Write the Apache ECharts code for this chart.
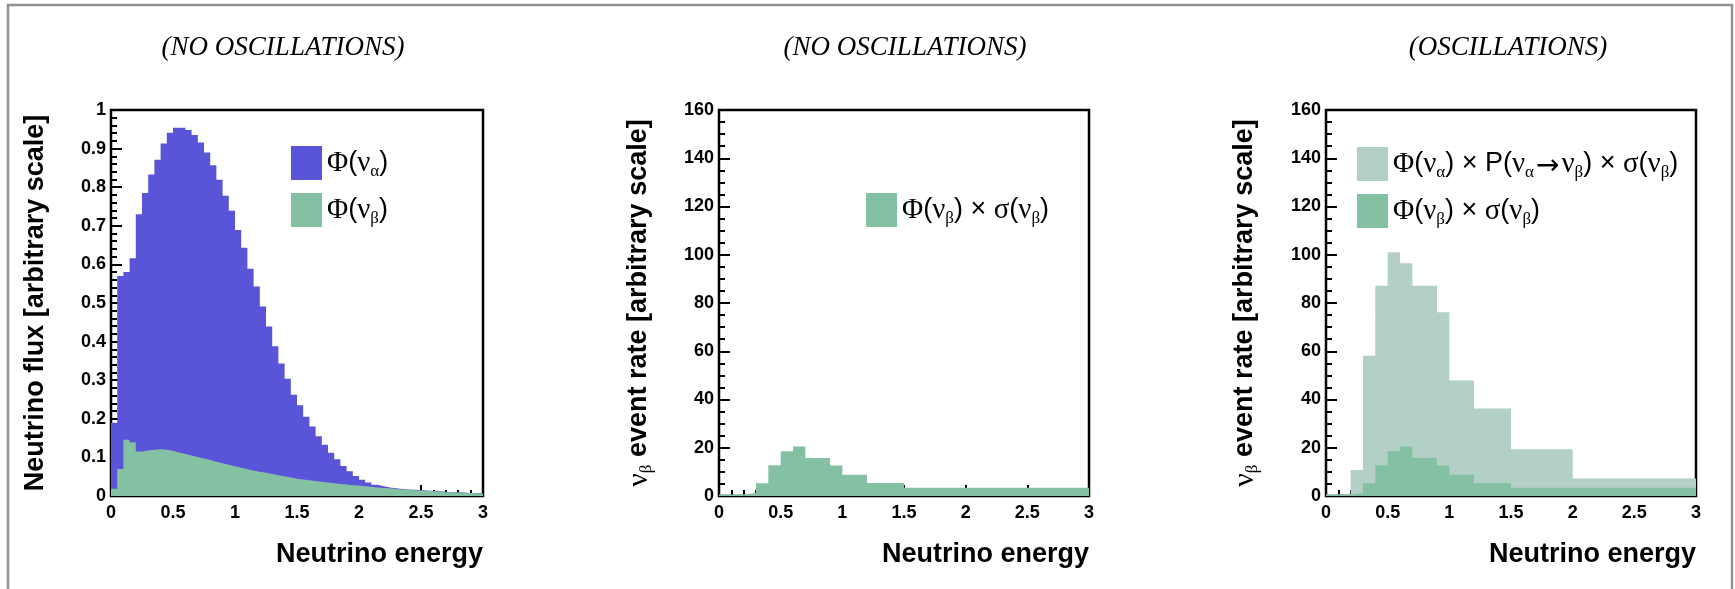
<!DOCTYPE html>
<html>
<head>
<meta charset="utf-8">
<script src="https://cdn.jsdelivr.net/npm/echarts@6/dist/echarts.min.js"></script>
<style>
  html, body { margin: 0; padding: 0; background: #ffffff; }
  #chart { width: 1735px; height: 589px; }
</style>
</head>
<body>
<div id="chart"></div>
<script>
// ---------------- data ----------------
// Panel 1: neutrino flux histograms, 60 bins of width 0.05 from 0 to 3
const fluxBinWidth = 0.05;
const fluxNuAlpha = [
  0.19, 0.57, 0.58, 0.616, 0.73, 0.785, 0.833, 0.871, 0.913, 0.941,
  0.954, 0.954, 0.948, 0.935, 0.916, 0.89, 0.857, 0.819, 0.778, 0.739,
  0.689, 0.643, 0.589, 0.543, 0.491, 0.439, 0.388, 0.343, 0.304, 0.262,
  0.235, 0.205, 0.18, 0.155, 0.133, 0.112, 0.095, 0.078, 0.064, 0.052,
  0.042, 0.035, 0.029, 0.025, 0.022, 0.02, 0.018, 0.017, 0.016, 0.015,
  0.014, 0.013, 0.012, 0.011, 0.010, 0.0095, 0.009, 0.008, 0.0075, 0.007
];
const fluxNuBeta = [
  0.019, 0.07, 0.146, 0.139, 0.115, 0.118, 0.12, 0.121, 0.12, 0.117,
  0.113, 0.109, 0.105, 0.101, 0.097, 0.093, 0.089, 0.085, 0.081, 0.077,
  0.073, 0.069, 0.066, 0.063, 0.06, 0.057, 0.054, 0.051, 0.048, 0.045,
  0.043, 0.041, 0.039, 0.037, 0.035, 0.033, 0.031, 0.03, 0.028, 0.027,
  0.025, 0.024, 0.022, 0.021, 0.02, 0.018, 0.017, 0.016, 0.015, 0.014,
  0.013, 0.012, 0.011, 0.01, 0.0095, 0.009, 0.008, 0.0075, 0.007, 0.006
];
// Panels 2 & 3: event-rate histograms with variable bins
const rateEdges = [0, 0.2, 0.3, 0.4, 0.5, 0.6, 0.7, 0.9, 1.0, 1.2, 1.5, 3.0];
const rateNuBeta = [0.6, 1.2, 5.3, 12.7, 18.6, 20.5, 15.7, 12.6, 8.8, 5.4, 3.4];
const oscEdges = [0, 0.2, 0.3, 0.4, 0.5, 0.6, 0.7, 0.9, 1.0, 1.2, 1.5, 2.0, 3.0];
const oscRate = [0.5, 10.8, 58.1, 87.2, 101, 96.5, 87.2, 76.2, 47.9, 36.3, 19.4, 7.3];

const panelTitles = ['(NO OSCILLATIONS)', '(NO OSCILLATIONS)', '(OSCILLATIONS)'];
const xTitle = 'Neutrino energy';
const yTitleFlux = 'Neutrino flux [arbitrary scale]';
const yTitleRate = '{g|ν}{s|β}{b| event rate [arbitrary scale]}';

const nameFluxA = 'Φ(να)';
const nameFluxB = 'Φ(νβ)';
const nameRateB = 'Φ(νβ) × σ(νβ)';
const nameOsc = 'Φ(να) × P(να→νβ) × σ(νβ)';
const legendRich = {};
legendRich[nameFluxA] = '{g|Φ}{t|(}{g|ν}{s|α}{t|)}';
legendRich[nameFluxB] = '{g|Φ}{t|(}{g|ν}{s|β}{t|)}';
legendRich[nameRateB] = '{g|Φ}{t|(}{g|ν}{s|β}{t|) × }{g|σ}{t|(}{g|ν}{s|β}{t|)}';
legendRich[nameOsc] = '{g|Φ}{t|(}{g|ν}{s|α}{t|) × P(}{g|ν}{s|α}{a|→}{g|ν}{s|β}{t|) × }{g|σ}{t|(}{g|ν}{s|β}{t|)}';

// ---------------- helpers ----------------
const SANS = 'Liberation Sans';
const SERIF = 'Liberation Serif';
const BLUE = '#5a54d8';
const GREEN = '#84c1a3';
const LIGHT = '#b2d0c6';

function uniformEdges(n, w) {
  const e = [];
  for (let i = 0; i <= n; i++) e.push(+(i * w).toFixed(6));
  return e;
}
// step points for a histogram: left edge of each bin, plus final right edge
function histPoints(edges, values) {
  const pts = [];
  for (let i = 0; i < values.length; i++) pts.push([edges[i], values[i]]);
  pts.push([edges[edges.length - 1], values[values.length - 1]]);
  return pts;
}
function histSeries(name, idx, edges, values, color) {
  return {
    name: name, type: 'line', xAxisIndex: idx, yAxisIndex: idx,
    step: 'end', symbol: 'none', showSymbol: false, silent: true,
    data: histPoints(edges, values),
    color: color,
    itemStyle: { color: color },
    lineStyle: { width: 0, opacity: 0 },
    areaStyle: { color: color, opacity: 1 },
    z: 2
  };
}

const grids = [
  { left: 111, top: 110, width: 372, height: 386 },
  { left: 719, top: 110, width: 370, height: 386 },
  { left: 1326, top: 110, width: 370, height: 386 }
];

const tickLabel = { color: '#000', fontFamily: SANS, fontWeight: 'bold', fontSize: 18 };

function xAxis(i) {
  return {
    type: 'value', gridIndex: i, min: 0, max: 3, interval: 0.5,
    axisLine: { show: false },
    axisTick: { show: true, inside: true, length: 11, lineStyle: { color: '#000', width: 2 } },
    minorTick: { show: true, splitNumber: 5, length: 6, lineStyle: { color: '#000', width: 2 } },
    splitLine: { show: false }, minorSplitLine: { show: false },
    axisLabel: Object.assign({ margin: 8 }, tickLabel),
    name: xTitle, nameLocation: 'end', nameGap: 0, nameMoveOverlap: false,
    nameTextStyle: {
      align: 'right', verticalAlign: 'top', padding: [43, 0, 0, 0],
      color: '#000', fontFamily: SANS, fontWeight: 'bold', fontSize: 27, lineHeight: 32
    }
  };
}
function yAxis(i, max, interval, minorSplit, name, gap) {
  return {
    type: 'value', gridIndex: i, min: 0, max: max, interval: interval,
    axisLine: { show: false },
    axisTick: { show: true, inside: true, length: 11, lineStyle: { color: '#000', width: 2 } },
    minorTick: { show: true, splitNumber: minorSplit, length: 6, lineStyle: { color: '#000', width: 2 } },
    splitLine: { show: false }, minorSplitLine: { show: false },
    axisLabel: Object.assign({ margin: 5 }, tickLabel),
    name: name, nameLocation: 'middle', nameRotate: 90, nameGap: gap, nameMoveOverlap: false,
    nameTextStyle: {
      color: '#000', fontFamily: SANS, fontWeight: 'bold', fontSize: 27, lineHeight: 32,
      rich: {
        g: { fontFamily: SERIF, fontSize: 30, fontWeight: 'normal', lineHeight: 32, color: '#000' },
        s: { fontFamily: SERIF, fontSize: 17, fontWeight: 'normal', lineHeight: 8, verticalAlign: 'bottom', color: '#000' },
        b: { fontFamily: SANS, fontSize: 27, fontWeight: 'bold', lineHeight: 32, color: '#000' }
      }
    }
  };
}

const richLegend = {
  t: { fontFamily: SANS, fontSize: 27, lineHeight: 34, color: '#000' },
  g: { fontFamily: SERIF, fontSize: 29, lineHeight: 34, color: '#000' },
  s: { fontFamily: SERIF, fontSize: 17, lineHeight: 8, verticalAlign: 'bottom', color: '#000' },
  a: { fontFamily: 'DejaVu Sans', fontSize: 28, lineHeight: 20, verticalAlign: 'bottom', color: '#000', padding: [0, 2, 0, 2] }
};
function legend(names, left, top) {
  return {
    data: names, left: left, top: top, orient: 'vertical', padding: 0,
    itemWidth: 31, itemHeight: 34, itemGap: 13, icon: 'rect',
    selectedMode: false,
    itemStyle: { borderWidth: 0 },
    formatter: function (n) { return legendRich[n]; },
    textStyle: { rich: richLegend }
  };
}

const fluxEdges = uniformEdges(fluxNuAlpha.length, fluxBinWidth);
const titleStyle = { fontFamily: SERIF, fontStyle: 'italic', fontWeight: 'normal', fontSize: 27, color: '#000' };

const option = {
  backgroundColor: '#ffffff',
  animation: false,
  title: [
    { text: panelTitles[0], left: 283, top: 34, textAlign: 'center', padding: 0, textStyle: titleStyle },
    { text: panelTitles[1], left: 905, top: 34, textAlign: 'center', padding: 0, textStyle: titleStyle },
    { text: panelTitles[2], left: 1508, top: 34, textAlign: 'center', padding: 0, textStyle: titleStyle }
  ],
  grid: grids.map(g => Object.assign({
    show: true, z: 1, backgroundColor: 'transparent', borderColor: '#000', borderWidth: 2.5,
    outerBoundsMode: 'none', containLabel: false
  }, g)),
  xAxis: [xAxis(0), xAxis(1), xAxis(2)],
  yAxis: [
    yAxis(0, 1, 0.1, 5, yTitleFlux, 59),
    yAxis(1, 160, 20, 4, yTitleRate, 64),
    yAxis(2, 160, 20, 4, yTitleRate, 65)
  ],
  legend: [
    legend([nameFluxA, nameFluxB], 291, 146),
    legend([nameRateB], 866, 193),
    legend([nameOsc, nameRateB], 1357, 147)
  ],
  graphic: [
    { type: 'rect', silent: true, z: 100,
      shape: { x: 8, y: 5, width: 1724, height: 700 },
      style: { fill: 'none', stroke: '#8e9196', lineWidth: 2.5 } }
  ],
  series: [
    histSeries(nameFluxA, 0, fluxEdges, fluxNuAlpha, BLUE),
    histSeries(nameFluxB, 0, fluxEdges, fluxNuBeta, GREEN),
    histSeries(nameRateB, 1, rateEdges, rateNuBeta, GREEN),
    histSeries(nameOsc, 2, oscEdges, oscRate, LIGHT),
    histSeries(nameRateB, 2, rateEdges, rateNuBeta, GREEN)
  ]
};

const chart = echarts.init(document.getElementById('chart'), null, { renderer: 'canvas' });
chart.setOption(option);
</script>
</body>
</html>
